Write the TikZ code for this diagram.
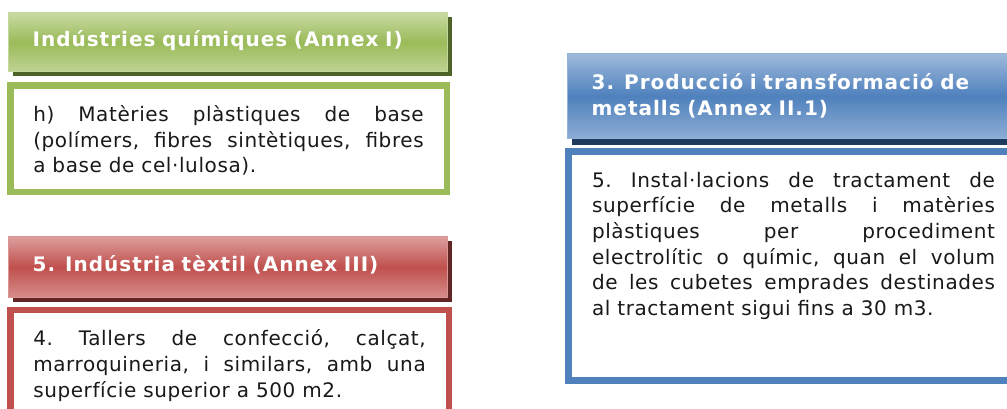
\documentclass[tikz,border=0pt]{standalone}
\usepackage{fontspec}
\setmainfont{DejaVu Sans}
\usetikzlibrary{positioning, shadows}
\definecolor{greenhead}{HTML}{9BBB59}
\definecolor{greendark}{HTML}{4F6228}
\definecolor{redhead}{HTML}{C0504D}
\definecolor{reddark}{HTML}{632523}
\definecolor{bluehead}{HTML}{4F81BD}
\definecolor{bluedark}{HTML}{1F3A5F}
\hyphenpenalty=10000
\exhyphenpenalty=10000

\begin{document}
\begin{tikzpicture}[x=1pt, y=-1pt,
    headbox/.style={rectangle, anchor=north west, text=white, align=left,
        font=\fontsize{20}{26}\selectfont\bfseries\addfontfeature{LetterSpace=5},
        inner xsep=24pt, text width=391pt, line width=1.2pt},
    greenhead/.style={headbox, draw=greenhead!60!white, top color=greenhead!55!white,
        bottom color=greenhead!65!white, middle color=greenhead,
        general shadow={fill=greendark, shadow xshift=4pt, shadow yshift=-4pt}},
    redhead/.style={headbox, draw=redhead!60!white, top color=redhead!55!white,
        bottom color=redhead!65!white, middle color=redhead,
        general shadow={fill=reddark, shadow xshift=4pt, shadow yshift=-4pt}},
    bluehead/.style={headbox, draw=bluehead!60!white, top color=bluehead!55!white,
        bottom color=bluehead!65!white, middle color=bluehead,
        general shadow={fill=bluedark, shadow xshift=4pt, shadow yshift=-6pt}},
    bodybox/.style={rectangle, anchor=north west, draw, line width=6.5pt, fill=white,
        align=justify, font=\fontsize{20}{25.7}\selectfont\addfontfeature{LetterSpace=3}\frenchspacing,
        text=black!90, inner xsep=23pt, inner ysep=21pt, text height=15pt},
    node distance=10pt
]
\useasboundingbox (0,0) rectangle (1007,409);
\clip (0,0) rectangle (1007,409);

% Chemical industries (left top)
\node[greenhead, minimum height=59pt, text depth=8pt] (chem_head) at (8,12) {Indústries químiques (Annex I)};
\node[bodybox, draw=greenhead, text width=390.5pt, text depth=49.5pt,
      below=of chem_head.south west, anchor=north west, xshift=-1pt] (chem_body)
    {h) Matèries plàstiques de base\linebreak (polímers, fibres sintètiques, fibres\linebreak a base de cel·lulosa).};

% Textile industry (left bottom)
\node[redhead, minimum height=61pt, text depth=8pt] (text_head) at (8,236) {5. Indústria tèxtil (Annex III)};
\node[bodybox, draw=redhead, text width=392.5pt, text depth=53pt,
      below=8.5pt of text_head.south west, anchor=north west, xshift=-1pt] (text_body)
    {4. Tallers de confecció, calçat,\linebreak marroquineria, i similars, amb una\linebreak superfície superior a 500 m2.};

% Metals (right)
\node[bluehead, minimum height=85pt, text width=420pt] (metal_head) at (567,53)
    {3. Producció i transformació de\\metalls (Annex II.1)};
\node[bodybox, draw=bluehead, line width=7pt, text width=403pt, text depth=172pt,
      inner xsep=23.5pt, below=8.4pt of metal_head.south west, anchor=north west, xshift=-2pt] (metal_body)
    {5. Instal·lacions de tractament de\linebreak superfície de metalls i matèries\linebreak plàstiques per procediment\linebreak electrolític o químic, quan el volum\linebreak de les cubetes emprades destinades\linebreak al tractament sigui fins a 30 m3.};

\end{tikzpicture}
\end{document}
